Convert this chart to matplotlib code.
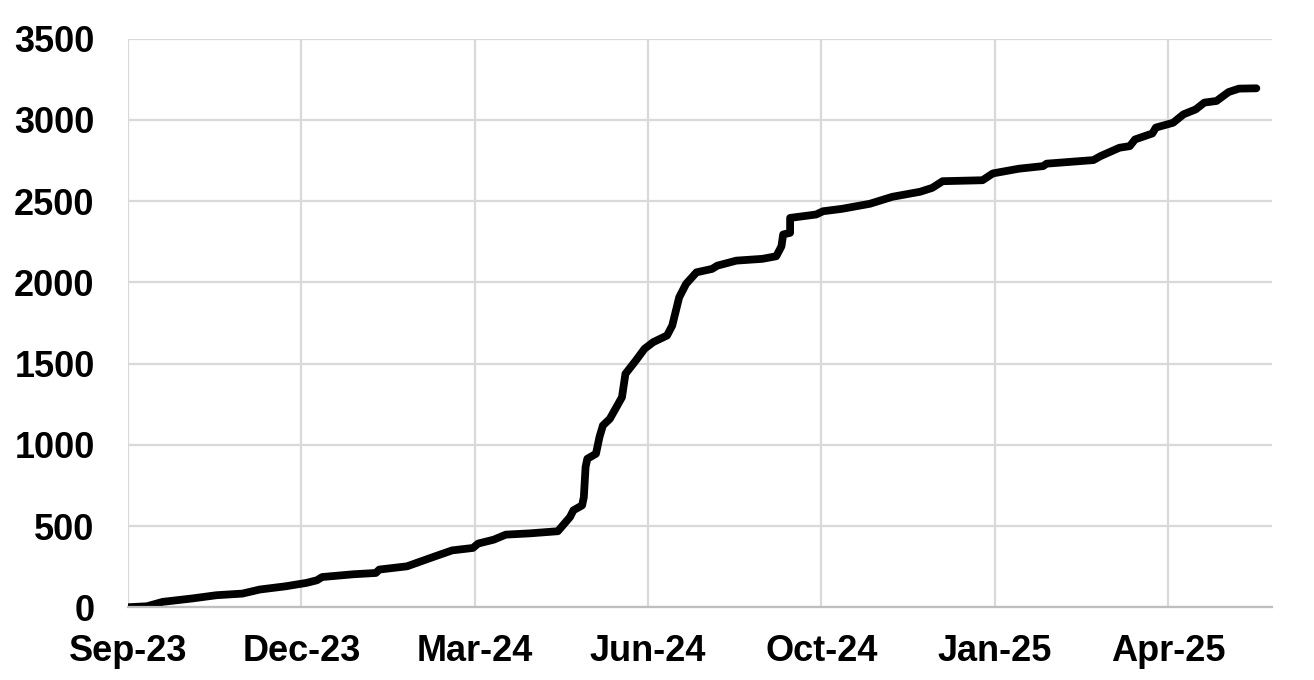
import pandas as pd
import matplotlib.pyplot as plt
import matplotlib.dates as mdates

# days since 1 Sep 2023 and cumulative total
days = [0, 11, 20, 37, 51, 66, 76, 91, 103, 109, 112, 130, 143, 145, 161, 176,
        187, 199, 202, 211, 218, 232, 248, 255, 257, 262, 263, 264, 265, 270,
        272, 274, 278, 285, 287, 293, 298, 303, 311, 314, 318, 322, 328, 337,
        340, 351, 366, 374, 377, 378, 382, 382, 397, 401, 412, 428, 441, 457,
        464, 470, 493, 499, 514, 528, 530, 557, 561, 572, 578, 581, 591, 593,
        603, 609, 616, 621, 628, 635, 641, 651]
total = [0, 6, 33, 54, 74, 84, 109, 129, 150, 166, 186, 203, 211, 232, 252, 309,
         350, 365, 392, 416, 447, 455, 468, 555, 597, 627, 678, 863, 914, 945,
         1047, 1119, 1160, 1293, 1437, 1519, 1591, 1632, 1673, 1734, 1908, 1991, 2062, 2083,
         2103, 2134, 2145, 2161, 2222, 2295, 2305, 2397, 2418, 2438, 2453, 2484, 2527, 2558,
         2582, 2623, 2629, 2671, 2700, 2716, 2731, 2753, 2777, 2829, 2839, 2880, 2917, 2953,
         2983, 3035, 3065, 3107, 3117, 3172, 3193, 3195]

start = pd.Timestamp('2023-09-01')
dates = start + pd.to_timedelta(days, unit='D')
tick_dates = start + pd.to_timedelta(range(0, 700, 100), unit='D')

plt.rcParams['font.family'] = ['Liberation Sans', 'DejaVu Sans']
plt.rcParams['font.weight'] = 'bold'

fig = plt.figure(figsize=(13.14, 6.8), dpi=100)
ax = fig.add_axes([0.0974, 0.107, 0.8706, 0.836])

ax.plot(dates, total, color='black', linewidth=5.6, solid_capstyle='round',
        solid_joinstyle='round')

ax.set_xlim(start, start + pd.Timedelta(days=660))
ax.set_ylim(0, 3500)
ax.set_yticks(range(0, 3501, 500))
ax.set_xticks(tick_dates)
ax.xaxis.set_major_formatter(mdates.DateFormatter('%b-%y'))

ax.grid(True, color='#d9d9d9', linewidth=1.6)
ax.set_axisbelow(True)
for side in ['top', 'right', 'left']:
    ax.spines[side].set_visible(False)
ax.spines['bottom'].set_color('#bfbfbf')
ax.spines['bottom'].set_linewidth(1.6)

ax.tick_params(axis='both', length=0, labelsize=26, colors='black')
ax.tick_params(axis='x', pad=19)
ax.tick_params(axis='y', pad=24)
for lbl in ax.get_xticklabels() + ax.get_yticklabels():
    lbl.set_fontweight('bold')

fig.savefig('out.png', dpi=100)
